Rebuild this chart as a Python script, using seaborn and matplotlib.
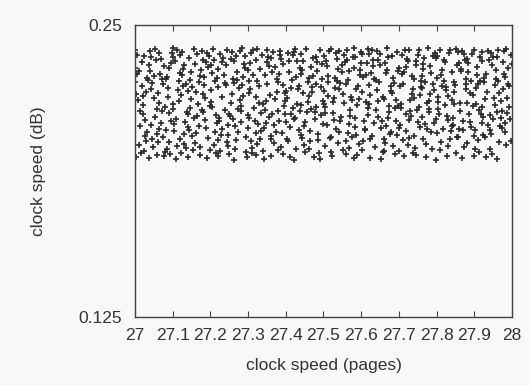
import numpy as np
import matplotlib
matplotlib.use('Agg')
import matplotlib.pyplot as plt
import seaborn as sns

# x : clock speed (pages), y : clock speed (dB) -- 그림에서 눈으로 읽은 값
pages = [
    27.0002, 27.0011, 27.0038, 27.0007, 27.0064, 27.0095, 27.0121, 27.0047, 27.0153, 27.0176, 27.0133, 27.0082, 27.0189, 27.0028, 27.0110,
    27.0215, 27.0343, 27.0271, 27.0398, 27.0236, 27.0302, 27.0259, 27.0367, 27.0224, 27.0288, 27.0331, 27.0380, 27.0249, 27.0317, 27.0204,
    27.0493, 27.0412, 27.0556, 27.0478, 27.0585, 27.0433, 27.0540, 27.0461, 27.0509, 27.0407, 27.0572, 27.0444, 27.0526, 27.0420, 27.0594,
    27.0650, 27.0768, 27.0603, 27.0737, 27.0686, 27.0629, 27.0791, 27.0714, 27.0666, 27.0752, 27.0609, 27.0698, 27.0641, 27.0779, 27.0723,
    27.0945, 27.0831, 27.0876, 27.0999, 27.0857, 27.0904, 27.0818, 27.0962, 27.0890, 27.0935, 27.0868, 27.0801, 27.0983, 27.0912, 27.0839,
    27.1093, 27.1012, 27.1156, 27.1078, 27.1185, 27.1033, 27.1140, 27.1061, 27.1109, 27.1007, 27.1172, 27.1044, 27.1126, 27.1020, 27.1194,
    27.1345, 27.1231, 27.1276, 27.1399, 27.1257, 27.1304, 27.1218, 27.1362, 27.1290, 27.1335, 27.1268, 27.1201, 27.1383, 27.1312, 27.1239,
    27.1402, 27.1411, 27.1438, 27.1407, 27.1464, 27.1495, 27.1521, 27.1447, 27.1553, 27.1576, 27.1533, 27.1482, 27.1589, 27.1428, 27.1510,
    27.1650, 27.1768, 27.1603, 27.1737, 27.1686, 27.1629, 27.1791, 27.1714, 27.1666, 27.1752, 27.1609, 27.1698, 27.1641, 27.1779, 27.1723,
    27.1815, 27.1943, 27.1871, 27.1998, 27.1836, 27.1902, 27.1859, 27.1967, 27.1824, 27.1888, 27.1931, 27.1980, 27.1849, 27.1917, 27.1804,
    27.2050, 27.2168, 27.2003, 27.2137, 27.2086, 27.2029, 27.2191, 27.2114, 27.2066, 27.2152, 27.2009, 27.2098, 27.2041, 27.2179, 27.2123,
    27.2202, 27.2211, 27.2238, 27.2207, 27.2264, 27.2295, 27.2321, 27.2247, 27.2353, 27.2376, 27.2333, 27.2282, 27.2389, 27.2228, 27.2310,
    27.2545, 27.2431, 27.2476, 27.2599, 27.2457, 27.2504, 27.2418, 27.2562, 27.2490, 27.2535, 27.2468, 27.2401, 27.2583, 27.2512, 27.2439,
    27.2615, 27.2743, 27.2671, 27.2798, 27.2636, 27.2702, 27.2659, 27.2767, 27.2624, 27.2688, 27.2731, 27.2780, 27.2649, 27.2717, 27.2604,
    27.2893, 27.2812, 27.2956, 27.2878, 27.2985, 27.2833, 27.2940, 27.2861, 27.2909, 27.2807, 27.2972, 27.2844, 27.2926, 27.2820, 27.2994,
    27.3015, 27.3143, 27.3071, 27.3198, 27.3036, 27.3102, 27.3059, 27.3167, 27.3024, 27.3088, 27.3131, 27.3180, 27.3049, 27.3117, 27.3004,
    27.3202, 27.3211, 27.3238, 27.3207, 27.3264, 27.3295, 27.3321, 27.3247, 27.3353, 27.3376, 27.3333, 27.3282, 27.3389, 27.3228, 27.3310,
    27.3545, 27.3431, 27.3476, 27.3599, 27.3457, 27.3504, 27.3418, 27.3562, 27.3490, 27.3535, 27.3468, 27.3401, 27.3583, 27.3512, 27.3439,
    27.3693, 27.3612, 27.3756, 27.3678, 27.3785, 27.3633, 27.3740, 27.3661, 27.3709, 27.3607, 27.3772, 27.3644, 27.3726, 27.3620, 27.3794,
    27.3850, 27.3968, 27.3803, 27.3937, 27.3886, 27.3829, 27.3991, 27.3914, 27.3866, 27.3952, 27.3809, 27.3898, 27.3841, 27.3979, 27.3923,
    27.4145, 27.4031, 27.4076, 27.4199, 27.4057, 27.4104, 27.4018, 27.4162, 27.4090, 27.4135, 27.4068, 27.4001, 27.4183, 27.4112, 27.4039,
    27.4293, 27.4212, 27.4356, 27.4278, 27.4385, 27.4233, 27.4340, 27.4261, 27.4309, 27.4207, 27.4372, 27.4244, 27.4326, 27.4220, 27.4394,
    27.4402, 27.4411, 27.4438, 27.4407, 27.4464, 27.4495, 27.4521, 27.4447, 27.4553, 27.4576, 27.4533, 27.4482, 27.4589, 27.4428, 27.4510,
    27.4615, 27.4743, 27.4671, 27.4798, 27.4636, 27.4702, 27.4659, 27.4767, 27.4624, 27.4688, 27.4731, 27.4780, 27.4649, 27.4717, 27.4604,
    27.4850, 27.4968, 27.4803, 27.4937, 27.4886, 27.4829, 27.4991, 27.4914, 27.4866, 27.4952, 27.4809, 27.4898, 27.4841, 27.4979, 27.4923,
    27.5002, 27.5011, 27.5038, 27.5007, 27.5064, 27.5095, 27.5121, 27.5047, 27.5153, 27.5176, 27.5133, 27.5082, 27.5189, 27.5028, 27.5110,
    27.5250, 27.5368, 27.5203, 27.5337, 27.5286, 27.5229, 27.5391, 27.5314, 27.5266, 27.5352, 27.5209, 27.5298, 27.5241, 27.5379, 27.5323,
    27.5493, 27.5412, 27.5556, 27.5478, 27.5585, 27.5433, 27.5540, 27.5461, 27.5509, 27.5407, 27.5572, 27.5444, 27.5526, 27.5420, 27.5594,
    27.5745, 27.5631, 27.5676, 27.5799, 27.5657, 27.5704, 27.5618, 27.5762, 27.5690, 27.5735, 27.5668, 27.5601, 27.5783, 27.5712, 27.5639,
    27.5815, 27.5943, 27.5871, 27.5998, 27.5836, 27.5902, 27.5859, 27.5967, 27.5824, 27.5888, 27.5931, 27.5980, 27.5849, 27.5917, 27.5804,
    27.6093, 27.6012, 27.6156, 27.6078, 27.6185, 27.6033, 27.6140, 27.6061, 27.6109, 27.6007, 27.6172, 27.6044, 27.6126, 27.6020, 27.6194,
    27.6202, 27.6211, 27.6238, 27.6207, 27.6264, 27.6295, 27.6321, 27.6247, 27.6353, 27.6376, 27.6333, 27.6282, 27.6389, 27.6228, 27.6310,
    27.6415, 27.6543, 27.6471, 27.6598, 27.6436, 27.6502, 27.6459, 27.6567, 27.6424, 27.6488, 27.6531, 27.6580, 27.6449, 27.6517, 27.6404,
    27.6745, 27.6631, 27.6676, 27.6799, 27.6657, 27.6704, 27.6618, 27.6762, 27.6690, 27.6735, 27.6668, 27.6601, 27.6783, 27.6712, 27.6639,
    27.6850, 27.6968, 27.6803, 27.6937, 27.6886, 27.6829, 27.6991, 27.6914, 27.6866, 27.6952, 27.6809, 27.6898, 27.6841, 27.6979, 27.6923,
    27.7015, 27.7143, 27.7071, 27.7198, 27.7036, 27.7102, 27.7059, 27.7167, 27.7024, 27.7088, 27.7131, 27.7180, 27.7049, 27.7117, 27.7004,
    27.7345, 27.7231, 27.7276, 27.7399, 27.7257, 27.7304, 27.7218, 27.7362, 27.7290, 27.7335, 27.7268, 27.7201, 27.7383, 27.7312, 27.7239,
    27.7450, 27.7568, 27.7403, 27.7537, 27.7486, 27.7429, 27.7591, 27.7514, 27.7466, 27.7552, 27.7409, 27.7498, 27.7441, 27.7579, 27.7523,
    27.7602, 27.7611, 27.7638, 27.7607, 27.7664, 27.7695, 27.7721, 27.7647, 27.7753, 27.7776, 27.7733, 27.7682, 27.7789, 27.7628, 27.7710,
    27.7893, 27.7812, 27.7956, 27.7878, 27.7985, 27.7833, 27.7940, 27.7861, 27.7909, 27.7807, 27.7972, 27.7844, 27.7926, 27.7820, 27.7994,
    27.8002, 27.8011, 27.8038, 27.8007, 27.8064, 27.8095, 27.8121, 27.8047, 27.8153, 27.8176, 27.8133, 27.8082, 27.8189, 27.8028, 27.8110,
    27.8345, 27.8231, 27.8276, 27.8399, 27.8257, 27.8304, 27.8218, 27.8362, 27.8290, 27.8335, 27.8268, 27.8201, 27.8383, 27.8312, 27.8239,
    27.8415, 27.8543, 27.8471, 27.8598, 27.8436, 27.8502, 27.8459, 27.8567, 27.8424, 27.8488, 27.8531, 27.8580, 27.8449, 27.8517, 27.8404,
    27.8650, 27.8768, 27.8603, 27.8737, 27.8686, 27.8629, 27.8791, 27.8714, 27.8666, 27.8752, 27.8609, 27.8698, 27.8641, 27.8779, 27.8723,
    27.8893, 27.8812, 27.8956, 27.8878, 27.8985, 27.8833, 27.8940, 27.8861, 27.8909, 27.8807, 27.8972, 27.8844, 27.8926, 27.8820, 27.8994,
    27.9145, 27.9031, 27.9076, 27.9199, 27.9057, 27.9104, 27.9018, 27.9162, 27.9090, 27.9135, 27.9068, 27.9001, 27.9183, 27.9112, 27.9039,
    27.9202, 27.9211, 27.9238, 27.9207, 27.9264, 27.9295, 27.9321, 27.9247, 27.9353, 27.9376, 27.9333, 27.9282, 27.9389, 27.9228, 27.9310,
    27.9493, 27.9412, 27.9556, 27.9478, 27.9585, 27.9433, 27.9540, 27.9461, 27.9509, 27.9407, 27.9572, 27.9444, 27.9526, 27.9420, 27.9594,
    27.9650, 27.9768, 27.9603, 27.9737, 27.9686, 27.9629, 27.9791, 27.9714, 27.9666, 27.9752, 27.9609, 27.9698, 27.9641, 27.9779, 27.9723,
    27.9815, 27.9943, 27.9871, 27.9998, 27.9836, 27.9902, 27.9859, 27.9967, 27.9824, 27.9888, 27.9931, 27.9980, 27.9849, 27.9917, 27.9804,
]

db = [
    0.2395, 0.2318, 0.2204, 0.2256, 0.2372, 0.1987, 0.2133, 0.2289, 0.1952, 0.2341, 0.2066, 0.2178, 0.2237, 0.1934, 0.2302,
    0.2119, 0.2263, 0.2027, 0.2388, 0.1961, 0.2215, 0.2094, 0.2331, 0.2158, 0.2003, 0.2274, 0.1929, 0.2367, 0.2042, 0.2196,
    0.2283, 0.2071, 0.2349, 0.1976, 0.2142, 0.2226, 0.2398, 0.2012, 0.2187, 0.2305, 0.1943, 0.2253, 0.2108, 0.2361, 0.2035,
    0.2167, 0.2324, 0.1998, 0.2246, 0.2081, 0.2379, 0.1958, 0.2131, 0.2292, 0.2019, 0.2209, 0.2356, 0.2057, 0.1938, 0.2270,
    0.2337, 0.2052, 0.2191, 0.2403, 0.1969, 0.2124, 0.2268, 0.2089, 0.2315, 0.1947, 0.2230, 0.2150, 0.2382, 0.2001, 0.2279,
    0.2098, 0.2364, 0.2173, 0.1926, 0.2296, 0.2046, 0.2221, 0.2344, 0.1983, 0.2139, 0.2261, 0.2075, 0.2393, 0.2162, 0.2010,
    0.2249, 0.1954, 0.2311, 0.2117, 0.2385, 0.2033, 0.2199, 0.1972, 0.2328, 0.2085, 0.2240, 0.2371, 0.2126, 0.1990, 0.2287,
    0.2062, 0.2218, 0.2358, 0.1937, 0.2146, 0.2300, 0.2024, 0.2266, 0.2397, 0.2104, 0.1965, 0.2183, 0.2335, 0.2050, 0.2233,
    0.2376, 0.2137, 0.1993, 0.2281, 0.2069, 0.2212, 0.2349, 0.1945, 0.2160, 0.2309, 0.2039, 0.2257, 0.2112, 0.2390, 0.1979,
    0.2206, 0.2016, 0.2343, 0.2154, 0.2276, 0.1931, 0.2092, 0.2368, 0.2243, 0.2059, 0.2320, 0.1967, 0.2189, 0.2381, 0.2128,
    0.2294, 0.2080, 0.2223, 0.1950, 0.2352, 0.2171, 0.2008, 0.2260, 0.2399, 0.2115, 0.2330, 0.1985, 0.2148, 0.2272, 0.2044,
    0.1940, 0.2313, 0.2101, 0.2235, 0.2374, 0.2056, 0.2194, 0.1962, 0.2286, 0.2135, 0.2360, 0.2028, 0.2251, 0.2090, 0.2340,
    0.2165, 0.2392, 0.2030, 0.2270, 0.1981, 0.2121, 0.2327, 0.2203, 0.1948, 0.2355, 0.2074, 0.2244, 0.2386, 0.2110, 0.1999,
    0.2253, 0.2040, 0.2366, 0.2180, 0.1923, 0.2298, 0.2067, 0.2229, 0.2346, 0.2006, 0.2141, 0.2389, 0.1970, 0.2265, 0.2096,
    0.2333, 0.2155, 0.1957, 0.2279, 0.2113, 0.2400, 0.2021, 0.2197, 0.2318, 0.2083, 0.1935, 0.2242, 0.2369, 0.2130, 0.2061,
    0.2104, 0.2284, 0.2379, 0.2036, 0.2211, 0.1974, 0.2338, 0.2145, 0.2259, 0.2003, 0.2394, 0.2087, 0.2227, 0.1953, 0.2306,
    0.2190, 0.1942, 0.2262, 0.2351, 0.2077, 0.2168, 0.2312, 0.1989, 0.2125, 0.2373, 0.2048, 0.2238, 0.2163, 0.2396, 0.2014,
    0.2325, 0.2058, 0.2176, 0.2014, 0.2288, 0.2391, 0.1928, 0.2106, 0.2247, 0.2362, 0.2079, 0.1960, 0.2200, 0.2342, 0.2136,
    0.2070, 0.2357, 0.2215, 0.1996, 0.2134, 0.2301, 0.2043, 0.2384, 0.2183, 0.1941, 0.2268, 0.2118, 0.2322, 0.2026, 0.2254,
    0.2388, 0.2119, 0.1964, 0.2245, 0.2353, 0.2091, 0.2207, 0.2335, 0.1979, 0.2153, 0.2290, 0.2038, 0.2372, 0.2173, 0.1946,
    0.2231, 0.2011, 0.2299, 0.2144, 0.2381, 0.1933, 0.2086, 0.2264, 0.2347, 0.2120, 0.2005, 0.2219, 0.2370, 0.2063, 0.2187,
    0.2345, 0.2097, 0.2241, 0.1968, 0.2132, 0.2397, 0.2052, 0.2278, 0.2160, 0.1921, 0.2316, 0.2103, 0.2226, 0.2385, 0.2031,
    0.2157, 0.2377, 0.2018, 0.2292, 0.2208, 0.2066, 0.1955, 0.2344, 0.2129, 0.2258, 0.2398, 0.1988, 0.2171, 0.2307, 0.2084,
    0.2273, 0.1936, 0.2140, 0.2363, 0.2047, 0.2233, 0.2319, 0.2099, 0.1971, 0.2213, 0.2359, 0.2127, 0.2002, 0.2281, 0.2195,
    0.2009, 0.2332, 0.2249, 0.2114, 0.1951, 0.2303, 0.2174, 0.2392, 0.2035, 0.2267, 0.2151, 0.1925, 0.2340, 0.2078, 0.2236,
    0.2367, 0.2164, 0.1982, 0.2218, 0.2348, 0.2073, 0.2282, 0.2122, 0.2390, 0.2015, 0.2197, 0.2326, 0.1958, 0.2147, 0.2255,
    0.2123, 0.2261, 0.2398, 0.2054, 0.2186, 0.1939, 0.2313, 0.2232, 0.2095, 0.2354, 0.2022, 0.2275, 0.2169, 0.1997, 0.2380,
    0.2297, 0.2044, 0.2166, 0.2327, 0.2004, 0.2251, 0.2373, 0.2108, 0.1963, 0.2224, 0.2342, 0.2088, 0.2206, 0.2387, 0.1949,
    0.2179, 0.2350, 0.2076, 0.1930, 0.2263, 0.2138, 0.2394, 0.2020, 0.2304, 0.2193, 0.1975, 0.2246, 0.2365, 0.2111, 0.2037,
    0.2317, 0.1990, 0.2228, 0.2383, 0.2100, 0.2156, 0.2029, 0.2287, 0.2361, 0.1944, 0.2182, 0.2308, 0.2065, 0.2240, 0.2402,
    0.2055, 0.2214, 0.2336, 0.2091, 0.2399, 0.1966, 0.2170, 0.2276, 0.2049, 0.2338, 0.2143, 0.2003, 0.2285, 0.2375, 0.2116,
    0.2244, 0.2378, 0.1932, 0.2161, 0.2295, 0.2025, 0.2352, 0.2201, 0.2082, 0.1978, 0.2271, 0.2394, 0.2135, 0.2013, 0.2323,
    0.2389, 0.2087, 0.2256, 0.2012, 0.2175, 0.2331, 0.2107, 0.1956, 0.2222, 0.2376, 0.2060, 0.2192, 0.2349, 0.1927, 0.2266,
    0.2126, 0.1994, 0.2308, 0.2238, 0.2068, 0.2362, 0.2185, 0.2034, 0.2400, 0.2153, 0.2296, 0.1959, 0.2216, 0.2102, 0.2339,
    0.2272, 0.2155, 0.2041, 0.2386, 0.1947, 0.2209, 0.2318, 0.2089, 0.2252, 0.2031, 0.2367, 0.2144, 0.1980, 0.2302, 0.2177,
    0.1961, 0.2297, 0.2370, 0.2118, 0.2239, 0.2007, 0.2144, 0.2391, 0.2071, 0.2289, 0.1938, 0.2321, 0.2163, 0.2247, 0.2058,
    0.2203, 0.2346, 0.2093, 0.2269, 0.2017, 0.2181, 0.2355, 0.1952, 0.2132, 0.2280, 0.2391, 0.2045, 0.2225, 0.2110, 0.1986,
    0.2328, 0.2064, 0.2189, 0.2395, 0.2138, 0.1973, 0.2260, 0.2085, 0.2344, 0.2199, 0.2027, 0.2371, 0.1943, 0.2235, 0.2149,
    0.2105, 0.2283, 0.2010, 0.2230, 0.2358, 0.2076, 0.1991, 0.2310, 0.2167, 0.2402, 0.2053, 0.2257, 0.2128, 0.2334, 0.1934,
    0.2248, 0.2139, 0.2381, 0.1968, 0.2097, 0.2325, 0.2221, 0.2040, 0.2366, 0.2173, 0.1922, 0.2294, 0.2080, 0.2203, 0.2359,
    0.2037, 0.2366, 0.2190, 0.2274, 0.2121, 0.2393, 0.2000, 0.2171, 0.2309, 0.2057, 0.2241, 0.1965, 0.2350, 0.2142, 0.2284,
    0.2393, 0.2158, 0.1939, 0.2300, 0.2234, 0.2092, 0.2340, 0.2014, 0.2196, 0.2379, 0.2112, 0.2262, 0.2046, 0.1984, 0.2220,
    0.2180, 0.2019, 0.2256, 0.2336, 0.2072, 0.1950, 0.2213, 0.2385, 0.2104, 0.2244, 0.2329, 0.2022, 0.2161, 0.2397, 0.2068,
    0.2311, 0.2246, 0.2054, 0.1976, 0.2387, 0.2133, 0.2271, 0.2050, 0.1929, 0.2352, 0.2168, 0.2090, 0.2305, 0.2224, 0.2378,
    0.2086, 0.2354, 0.2152, 0.2210, 0.2026, 0.2299, 0.2375, 0.2117, 0.2259, 0.1995, 0.2201, 0.2337, 0.2063, 0.2165, 0.1941,
    0.2260, 0.1971, 0.2321, 0.2080, 0.2161, 0.2247, 0.2049, 0.2363, 0.2008, 0.2136, 0.2286, 0.2395, 0.2118, 0.1958, 0.2230,
    0.2147, 0.2384, 0.2029, 0.2345, 0.2254, 0.2183, 0.1937, 0.2274, 0.2390, 0.2072, 0.2213, 0.2020, 0.2349, 0.2107, 0.2292,
    0.2365, 0.2113, 0.2242, 0.1949, 0.2306, 0.2035, 0.2158, 0.2329, 0.2099, 0.1970, 0.2269, 0.2382, 0.2186, 0.2051, 0.2127,
    0.2001, 0.2227, 0.2361, 0.2134, 0.2066, 0.2393, 0.2290, 0.2102, 0.2207, 0.2341, 0.1926, 0.2174, 0.2262, 0.2387, 0.2060,
    0.2279, 0.2096, 0.2189, 0.2334, 0.1988, 0.2248, 0.2125, 0.2370, 0.2043, 0.2315, 0.2151, 0.2003, 0.2398, 0.2237, 0.2081,
]

xticks = [27.0, 27.1, 27.2, 27.3, 27.4, 27.5, 27.6, 27.7, 27.8, 27.9, 28.0]
xtick_labels = ['27', '27.1', '27.2', '27.3', '27.4', '27.5', '27.6', '27.7', '27.8', '27.9', '28']
yticks = [0.125, 0.25]
ytick_labels = ['0.125', '0.25']

sns.set_theme(style='white')
plt.rcParams['font.family'] = ['Liberation Sans', 'DejaVu Sans']
fs = 12.5

bg = '#f8f8f6'
ink = '#333333'

fig = plt.figure(figsize=(5.30, 3.85), dpi=100, facecolor=bg)
ax = fig.add_axes([0.2547, 0.1766, 0.7113, 0.7584])
ax.set_facecolor(bg)

sns.scatterplot(x=pages, y=db, marker='+', color='#2b2b2b', s=22, linewidth=1.2, ax=ax, legend=False)

ax.set_xlim(27, 28)
ax.set_ylim(0.125, 0.25)
ax.set_xticks(xticks)
ax.set_xticklabels(xtick_labels)
ax.set_yticks(yticks)
ax.set_yticklabels(ytick_labels)

ax.tick_params(axis='x', direction='in', length=4, width=0.8, color='#444444',
               top=True, bottom=True, pad=8, labelsize=fs, labelcolor=ink)
ax.tick_params(axis='y', direction='in', length=0, pad=9, labelsize=fs, labelcolor=ink)

for sp in ax.spines.values():
    sp.set_visible(True)
    sp.set_color('#444444')
    sp.set_linewidth(1.0)

ax.set_xlabel('clock speed (pages)', fontsize=fs, color=ink)
ax.set_ylabel('clock speed (dB)', fontsize=fs, color=ink)
ax.xaxis.set_label_coords(0.5, -0.14)
ax.yaxis.set_label_coords(-0.235, 0.5)

fig.savefig('out.png', dpi=100, facecolor=bg)
